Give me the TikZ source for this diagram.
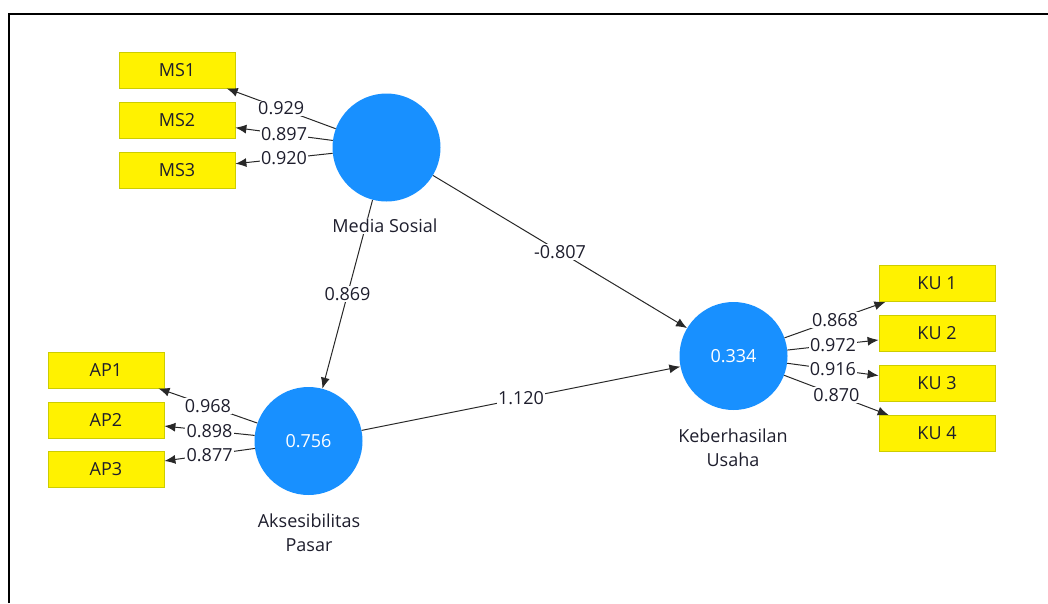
\documentclass[tikz,border=0pt]{standalone}
\usepackage{fontspec}
\setmainfont{Open Sans}
\usetikzlibrary{arrows.meta}
\definecolor{lvblue}{RGB}{24,144,255}
\definecolor{ybord}{RGB}{205,205,0}
\definecolor{txtc}{RGB}{30,30,45}
\definecolor{lnc}{RGB}{40,40,40}
\newcommand\plsfont{\fontsize{18}{24}\selectfont}
\begin{document}
\begin{tikzpicture}[x=1pt,y=-1pt,
 lv/.style={circle,fill=lvblue,minimum size=108pt,inner sep=0pt,text=white,font=\plsfont},
 mv/.style={rectangle,fill=yellow,draw=ybord,line width=0.8pt,minimum width=116pt,minimum height=36pt,inner sep=0pt,text=txtc,font=\plsfont},
 arr/.style={draw=lnc,line width=1pt,-{Latex[length=11pt,width=9pt]}},
 lbl/.style={fill=white,inner sep=1.2pt,text=txtc,font=\plsfont},
 nm/.style={fill=white,inner sep=1pt,text=txtc,font=\plsfont,align=center}]
\useasboundingbox (0,0) rectangle (1048,603);
\draw[line width=2.5pt] (9,603) -- (9,14) -- (1048,14);

\node[lv] (ms) at (386.5,147.5) {};
\node[lv] (ap) at (308.5,441) {0.756};
\node[lv] (ku) at (733.5,356) {0.334};

\node[mv] (ms1) at (177,70) {MS1};
\node[mv] (ms2) at (177,120) {MS2};
\node[mv] (ms3) at (177,170) {MS3};
\node[mv] (ap1) at (106,370) {AP1};
\node[mv] (ap2) at (106,420) {AP2};
\node[mv] (ap3) at (106,469) {AP3};
\node[mv] (ku1) at (937,283.5) {KU 1};
\node[mv] (ku2) at (937,333.5) {KU 2};
\node[mv] (ku3) at (937,383.5) {KU 3};
\node[mv] (ku4) at (937,433.5) {KU 4};

\draw[arr] (ms) -- node[lbl]{0.929} (ms1);
\draw[arr] (ms) -- node[lbl]{0.897} (ms2);
\draw[arr] (ms) -- node[lbl]{0.920} (ms3);
\draw[arr] (ap) -- node[lbl]{0.968} (ap1);
\draw[arr] (ap) -- node[lbl]{0.898} (ap2);
\draw[arr] (ap) -- node[lbl]{0.877} (ap3);
\draw[arr] (ku) -- node[lbl]{0.868} (ku1);
\draw[arr] (ku) -- node[lbl]{0.972} (ku2);
\draw[arr] (ku) -- node[lbl]{0.916} (ku3);
\draw[arr] (ku) -- node[lbl]{0.870} (ku4);
\draw[arr] (ms) -- node[lbl]{0.869} (ap);
\draw[arr] (ms) -- node[lbl]{-0.807} (ku);
\draw[arr] (ap) -- node[lbl]{1.120} (ku);

\node[nm] (msn) at (385,226) {Media Sosial};
\node[nm] (apn) at (309,533) {Aksesibilitas\\Pasar};
\node[nm] (kun) at (733,448) {Keberhasilan\\Usaha};
\end{tikzpicture}
\end{document}
